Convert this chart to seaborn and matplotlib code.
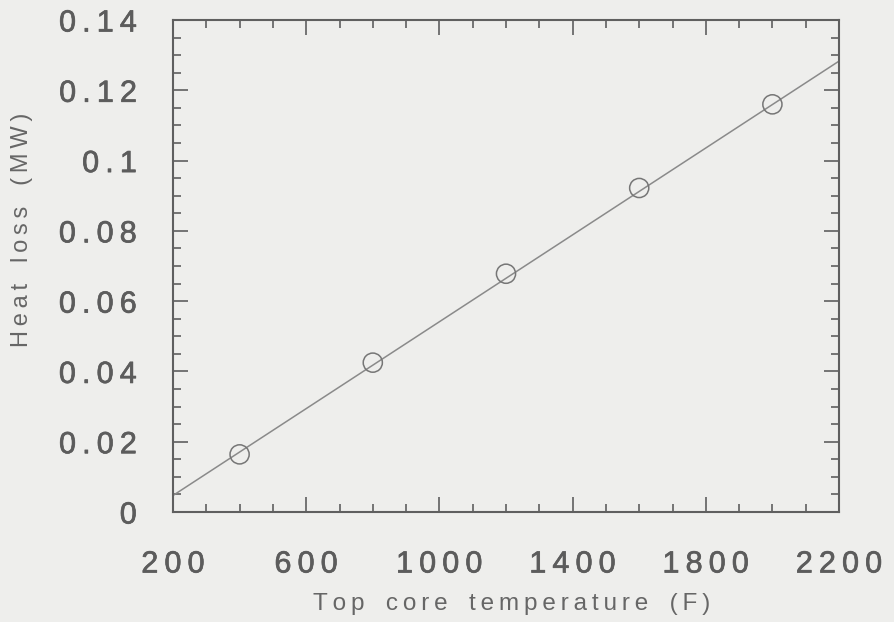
import matplotlib
matplotlib.use("Agg")
import matplotlib.pyplot as plt
import matplotlib.patheffects as pe
from matplotlib.ticker import FixedLocator, FixedFormatter, MultipleLocator
import seaborn as sns
import pandas as pd

# Measured heat loss at the top of the core
temperature_f = [400, 800, 1200, 1600, 2000]
heat_loss_mw = [0.0164, 0.0425, 0.0678, 0.0922, 0.1160]

# Correlation line drawn across the plotted temperature range
line_temperature_f = [200, 2200]
line_heat_loss_mw = [0.0047, 0.1283]

x_ticks = [200, 600, 1000, 1400, 1800, 2200]
x_tick_labels = ["200", "600", "1000", "1400", "1800", "2200"]
y_ticks = [0, 0.02, 0.04, 0.06, 0.08, 0.1, 0.12, 0.14]
y_tick_labels = ["0", "0.02", "0.04", "0.06", "0.08", "0.1", "0.12", "0.14"]

BG = "#eeeeec"
INK = "#5c5c5c"
LINE = "#8a8a8a"


def spaced(text):
    """Widen the tracking of a label the way old plotter fonts look."""
    return "\u2009".join(text).replace("\u2009 \u2009", "\u2009 \u2009\u2009")


sns.set_theme(style="ticks")
plt.rcParams["font.family"] = ["Liberation Sans", "DejaVu Sans"]

points = pd.DataFrame({"temp": temperature_f, "loss": heat_loss_mw})
corr = pd.DataFrame({"temp": line_temperature_f, "loss": line_heat_loss_mw})

fig = plt.figure(figsize=(8.94, 6.22), dpi=100, facecolor=BG)
ax = fig.add_axes([173 / 894, 110 / 622, 666 / 894, 492 / 622])
ax.set_facecolor(BG)

sns.lineplot(data=corr, x="temp", y="loss", ax=ax, color=LINE, lw=1.1)
sns.scatterplot(data=points, x="temp", y="loss", ax=ax, marker="o", s=190,
                facecolors="none", edgecolor="#767676", linewidth=1.1,
                zorder=3)

ax.set_xlim(200, 2200)
ax.set_ylim(0, 0.14)

ax.xaxis.set_major_locator(FixedLocator(x_ticks))
ax.xaxis.set_major_formatter(FixedFormatter([spaced(t) for t in x_tick_labels]))
ax.xaxis.set_minor_locator(MultipleLocator(100))
ax.yaxis.set_major_locator(FixedLocator(y_ticks))
ax.yaxis.set_major_formatter(FixedFormatter([spaced(t) for t in y_tick_labels]))
ax.yaxis.set_minor_locator(MultipleLocator(0.005))

for side in ax.spines.values():
    side.set_color("#5f5f5f")
    side.set_linewidth(1.5)

ax.tick_params(which="both", direction="in", top=True, right=True,
               color="#5f5f5f", width=1.2, labelcolor=INK)
ax.tick_params(which="major", length=11)
ax.tick_params(which="minor", length=6)
ax.tick_params(axis="x", which="major", labelsize=22, pad=27)
ax.tick_params(axis="y", which="major", labelsize=22, pad=26)

heavier = [pe.withStroke(linewidth=0.5, foreground=INK)]
for lab in ax.get_xticklabels() + ax.get_yticklabels():
    lab.set_path_effects(heavier)

ax.set_xlabel(spaced("Top core temperature (F)"), fontsize=17.5,
              color="#666666", va="center")
ax.set_ylabel(spaced("Heat loss (MW)"), fontsize=17, color="#666666",
              va="center")
ax.xaxis.set_label_coords((512 - 173) / 666, (512 - 604) / 492)
ax.yaxis.set_label_coords((22 - 173) / 666, (512 - 230) / 492)

fig.savefig("out.png", dpi=100, facecolor=BG)
